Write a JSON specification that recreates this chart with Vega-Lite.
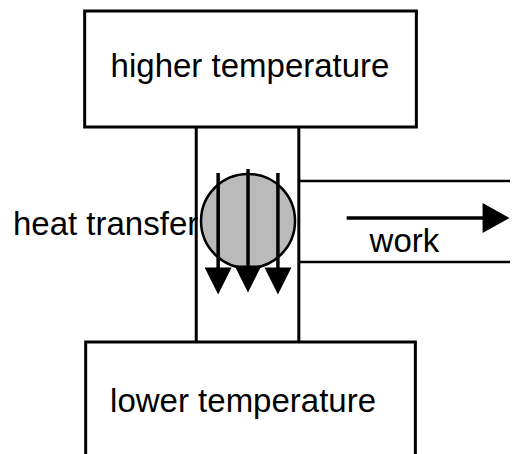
{
  "$schema": "https://vega.github.io/schema/vega-lite/v6.json",
  "width": 512,
  "height": 454,
  "autosize": {"type": "fit", "contains": "padding"},
  "padding": 0,
  "background": "white",
  "config": {"view": {"stroke": null}},
  "datasets": {
    "boxes": [
      {"name": "higher", "x": 85, "x2": 418, "y": 11, "y2": 127},
      {"name": "lower", "x": 86, "x2": 417, "y": 342, "y2": 480}
    ],
    "lines": [
      {"name": "col-left", "x": 197, "x2": 197, "y": 127, "y2": 342, "w": 3},
      {"name": "col-right", "x": 300, "x2": 300, "y": 127, "y2": 342, "w": 3},
      {"name": "work-top", "x": 300, "x2": 512, "y": 181, "y2": 181, "w": 2.5},
      {"name": "work-bottom", "x": 300, "x2": 512, "y": 262, "y2": 262, "w": 2.5}
    ],
    "circle": [{"x": 249, "y": 221}],
    "arrows": [
      {"name": "heat-left", "x": 219, "x2": 219, "y": 173, "y2": 272},
      {"name": "heat-mid", "x": 249, "x2": 249, "y": 169, "y2": 270},
      {"name": "heat-right", "x": 279, "x2": 279, "y": 173, "y2": 272},
      {"name": "work", "x": 348, "x2": 488, "y": 218, "y2": 218}
    ],
    "heads_down": [
      {"x": 219, "y": 281},
      {"x": 249, "y": 279},
      {"x": 279, "y": 281}
    ],
    "heads_right": [{"x": 498, "y": 218}],
    "labels_center": [
      {"label": "higher temperature", "x": 251, "y": 77},
      {"label": "lower temperature", "x": 244, "y": 412},
      {"label": "work", "x": 406, "y": 252}
    ],
    "labels_left": [
      {"label": "heat transfer", "x": 13, "y": 235}
    ]
  },
  "layer": [
    {
      "data": {"name": "boxes"},
      "mark": {"type": "rect", "fill": "white", "stroke": "black", "strokeWidth": 3, "clip": true},
      "encoding": {
        "x": {"field": "x", "type": "quantitative", "scale": {"domain": [0, 512], "nice": false, "zero": false}, "axis": null},
        "x2": {"field": "x2"},
        "y": {"field": "y", "type": "quantitative", "scale": {"domain": [0, 454], "nice": false, "zero": false, "reverse": true}, "axis": null},
        "y2": {"field": "y2"}
      }
    },
    {
      "data": {"name": "lines"},
      "mark": {"type": "rule", "color": "black"},
      "encoding": {
        "x": {"field": "x", "type": "quantitative"},
        "x2": {"field": "x2"},
        "y": {"field": "y", "type": "quantitative"},
        "y2": {"field": "y2"},
        "strokeWidth": {"field": "w", "type": "quantitative", "scale": null}
      }
    },
    {
      "data": {"name": "circle"},
      "mark": {"type": "point", "shape": "circle", "filled": true, "fill": "#bababa", "stroke": "black", "strokeWidth": 2.5, "size": 8836, "opacity": 1},
      "encoding": {
        "x": {"field": "x", "type": "quantitative"},
        "y": {"field": "y", "type": "quantitative"}
      }
    },
    {
      "data": {"name": "arrows"},
      "mark": {"type": "rule", "color": "black", "strokeWidth": 3.5},
      "encoding": {
        "x": {"field": "x", "type": "quantitative"},
        "x2": {"field": "x2"},
        "y": {"field": "y", "type": "quantitative"},
        "y2": {"field": "y2"}
      }
    },
    {
      "data": {"name": "heads_down"},
      "mark": {"type": "point", "shape": "M-1,-1L1,-1L0,1Z", "filled": true, "color": "black", "size": 729, "opacity": 1},
      "encoding": {
        "x": {"field": "x", "type": "quantitative"},
        "y": {"field": "y", "type": "quantitative"}
      }
    },
    {
      "data": {"name": "heads_right"},
      "mark": {"type": "point", "shape": "M-0.9,-1L0.9,0L-0.9,1Z", "filled": true, "color": "black", "size": 900, "opacity": 1},
      "encoding": {
        "x": {"field": "x", "type": "quantitative"},
        "y": {"field": "y", "type": "quantitative"}
      }
    },
    {
      "data": {"name": "labels_center"},
      "mark": {"type": "text", "font": "Liberation Sans", "fontSize": 33, "align": "center", "baseline": "alphabetic", "color": "black"},
      "encoding": {
        "x": {"field": "x", "type": "quantitative"},
        "y": {"field": "y", "type": "quantitative"},
        "text": {"field": "label"}
      }
    },
    {
      "data": {"name": "labels_left"},
      "mark": {"type": "text", "font": "Liberation Sans", "fontSize": 33, "align": "left", "baseline": "alphabetic", "color": "black"},
      "encoding": {
        "x": {"field": "x", "type": "quantitative"},
        "y": {"field": "y", "type": "quantitative"},
        "text": {"field": "label"}
      }
    }
  ]
}
